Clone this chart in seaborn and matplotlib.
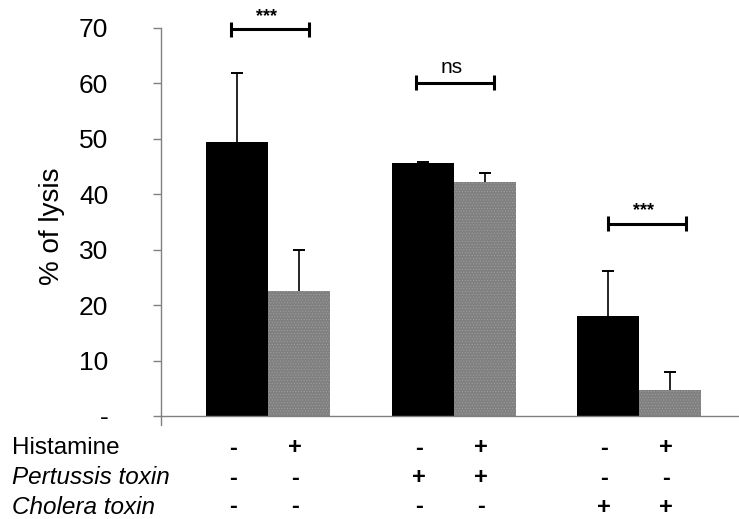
import matplotlib
matplotlib.use("Agg")
import matplotlib.pyplot as plt
import matplotlib.transforms as mtransforms
import seaborn as sns
import pandas as pd

# ---- data ----
groups = ["G1", "G2", "G3"]
histamine_levels = ["-", "+"]
lysis_no_hist = [49.4, 45.6, 18.0]
lysis_hist = [22.6, 42.2, 4.7]
err_no_hist = [12.4, 0.2, 8.2]
err_hist = [7.4, 1.6, 3.3]

ytick_vals = [0, 10, 20, 30, 40, 50, 60, 70]
ytick_labels = ["-", "10", "20", "30", "40", "50", "60", "70"]

row_labels = ["Histamine", "Pertussis toxin", "Cholera toxin"]
row_italic = [False, True, True]
row_signs = [
    ["-", "+", "-", "+", "-", "+"],
    ["-", "-", "+", "+", "-", "-"],
    ["-", "-", "-", "-", "+", "+"],
]

sig_labels = ["***", "ns", "***"]
sig_levels = [69.7, 60.1, 34.7]
sig_shift = [0.0, 0.0, 0.035]

# ---- build frame ----
df = pd.DataFrame({
    "group": groups * 2,
    "histamine": ["-"] * 3 + ["+"] * 3,
    "lysis": lysis_no_hist + lysis_hist,
})

sns.set_style("white")
plt.rcParams["font.family"] = ["Liberation Sans", "DejaVu Sans"]
plt.rcParams["hatch.linewidth"] = 0.4
plt.rcParams["text.color"] = "black"
plt.rcParams["axes.labelcolor"] = "black"

fig = plt.figure(figsize=(7.39, 5.19), dpi=100)
ax = fig.add_axes([0.218, 0.1985, 0.782, 0.748])

palette = {"-": "black", "+": "#808080"}
sns.barplot(data=df, x="group", y="lysis", hue="histamine",
            hue_order=histamine_levels, order=groups, palette=palette,
            width=0.668, errorbar=None, legend=False, ax=ax,
            saturation=1, linewidth=0)
bar_conts = list(ax.containers)

# texture for gray bars
for p in bar_conts[1]:
    p.set_hatch("......")
    p.set_edgecolor("#a0a0a0")
    p.set_linewidth(0)

# centers in order G1-,G1+,G2-,G2+,...
centers = []
for i in range(len(groups)):
    for cont in bar_conts:
        p = cont[i]
        centers.append(p.get_x() + p.get_width() / 2)

# error bars (upper only)
for cont, errs in zip(bar_conts, [err_no_hist, err_hist]):
    for p, e in zip(cont, errs):
        cx = p.get_x() + p.get_width() / 2
        top = p.get_height()
        eb = ax.errorbar([cx], [top], yerr=[[0], [e]], fmt="none",
                         ecolor="black", elinewidth=1.2, capsize=4.5,
                         capthick=1.4, zorder=3)
        caps = eb[1]
        if len(caps) == 2:
            caps[0].set_visible(False)

ax.set_xlim(-0.577, 2.539)
ax.set_ylim(0, 70)
ax.set_yticks(ytick_vals)
ax.set_yticklabels(ytick_labels, fontsize=19)
ax.set_xticks([])
ax.set_xlabel("")
ax.set_ylabel("% of lysis", fontsize=20, color="black")
ax.yaxis.set_label_coords(-0.166, 0.49)

for s in ["top", "right"]:
    ax.spines[s].set_visible(False)
for s in ["left", "bottom"]:
    ax.spines[s].set_color("#808080")
    ax.spines[s].set_linewidth(1.0)
ax.tick_params(axis="y", direction="out", length=6, width=1.0,
               color="#808080", labelcolor="black", left=True, pad=32)

# small extension of the y-axis below zero
trans_ext = mtransforms.blended_transform_factory(ax.transAxes, fig.transFigure)
ax.plot([0, 0], [0.1985, 0.181], transform=trans_ext, color="#808080",
        lw=1.0, clip_on=False)

# significance brackets
for i, (lab, lev, sh) in enumerate(zip(sig_labels, sig_levels, sig_shift)):
    x0 = i - 0.20 + sh
    x1 = i + 0.22 + sh
    ax.plot([x0, x1], [lev, lev], color="black", lw=2.2, clip_on=False,
            solid_capstyle="butt")
    for xx in (x0, x1):
        ax.plot([xx, xx], [lev - 1.4, lev + 1.4], color="black", lw=2.2,
                clip_on=False, solid_capstyle="butt")
    if lab == "ns":
        ax.text((x0 + x1) / 2 - 0.02, lev + 1.0, lab, ha="center", va="bottom",
                fontsize=15, color="black", clip_on=False)
    else:
        ax.text((x0 + x1) / 2 - 0.02, lev + 0.8, lab, ha="center", va="bottom",
                fontsize=13, fontweight="bold", color="black", clip_on=False)

# condition table below the axis
trans = mtransforms.blended_transform_factory(ax.transData, fig.transFigure)
row_y = [1 - 448 / 519, 1 - 478 / 519, 1 - 507 / 519]
for lab, ital, signs, yy in zip(row_labels, row_italic, row_signs, row_y):
    fig.text(12 / 739, yy, lab, ha="left", va="center", fontsize=17.5,
             color="black", style="italic" if ital else "normal")
    for cx, sgn in zip(centers, signs):
        ax.text(cx - 0.02, yy, sgn, transform=trans, ha="center", va="center",
                fontsize=17, fontweight="bold", color="black", clip_on=False)

fig.savefig("out.png", dpi=100)
